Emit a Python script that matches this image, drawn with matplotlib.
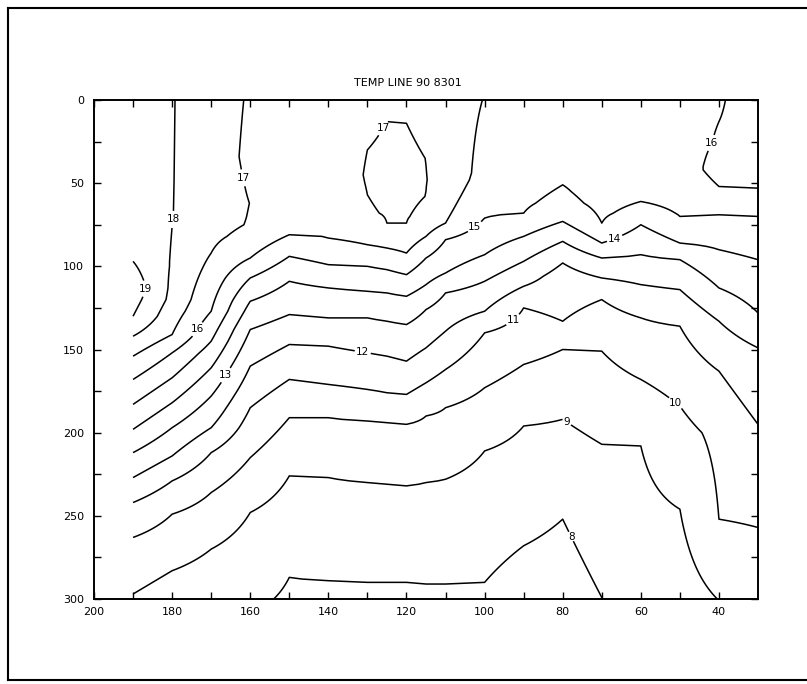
import numpy as np
import matplotlib
matplotlib.use("Agg")
import matplotlib.pyplot as plt
from matplotlib.lines import Line2D

# ---- data: temperature casts (depth, temperature) at each station ----
stations = [190, 180, 170, 160, 150, 140, 130, 125, 120, 115, 110, 100, 90, 80, 70, 60, 50, 40, 30]

cast_190 = [(0, 18.6), (97, 19.0), (113, 19.6), (130, 19.0), (142, 18), (154, 17), (168, 16), (183, 15),
            (198, 14), (212, 13), (227, 12), (242, 11), (263, 10), (297, 9), (300, 8.92)]
cast_180 = [(0, 18.04), (70, 18.02), (100, 17.92), (120, 17.75), (141, 17), (152, 16), (167, 15), (182, 14),
            (197, 13), (214, 12), (229, 11), (249, 10), (283, 9), (300, 8.5)]
cast_170 = [(0, 17.5), (50, 17.5), (70, 17.4), (92, 17.0), (127, 16), (145, 15), (161, 14), (178, 13),
            (197, 12), (212, 11), (236, 10), (270, 9), (300, 8.4)]
cast_160 = [(0, 16.9), (34, 16.8), (62, 16.99), (75, 16.94), (82, 16.73), (95, 16), (107, 15), (121, 14),
            (138, 13), (160, 12), (185, 11), (215, 10), (248, 9), (300, 8.15)]
cast_150 = [(0, 16.5), (60, 16.4), (81, 16), (94, 15), (109, 14), (129, 13), (147, 12), (168, 11),
            (191, 10), (226, 9), (287, 8), (300, 7.9)]
cast_140 = [(0, 16.6), (50, 16.5), (83, 16), (99, 15), (113, 14), (131, 13), (148, 12), (171, 11),
            (191, 10), (227, 9), (289, 8), (300, 7.8)]
cast_130 = [(0, 16.6), (20, 16.9), (30, 17.0), (45, 17.06), (57, 17.0), (68, 16.92), (87, 16), (100, 15),
            (115, 14), (131, 13), (152, 12), (174, 11), (193, 10), (230, 9), (290, 8), (300, 7.8)]
cast_125 = [(0, 16.7), (13, 17.0), (45, 17.25), (74, 17.0), (89, 16), (102, 15), (116, 14), (133, 13),
            (154, 12), (176, 11), (194, 10), (231, 9), (290, 8), (300, 7.8)]
cast_120 = [(0, 16.75), (14, 17.0), (45, 17.3), (74, 17.0), (92, 16), (105, 15), (118, 14),
            (135, 13), (157, 12), (177, 11), (195, 10), (232, 9), (290, 8), (300, 7.8)]
cast_115 = [(0, 16.6), (35, 16.99), (48, 17.02), (58, 16.99), (70, 16.8), (82, 16), (95, 15), (111, 14),
            (126, 13), (149, 12), (170, 11), (190, 10), (230, 9), (291, 8), (300, 7.85)]
cast_110 = [(0, 16.5), (48, 16.69), (74, 16), (84, 15), (104, 14), (116, 13), (139, 12), (162, 11),
            (185, 10), (228, 9), (291, 8), (300, 7.85)]
cast_100 = [(0, 15.97), (44, 15.66), (71, 15), (93, 14), (109, 13), (127, 12), (140, 11), (173, 10),
            (211, 9), (290, 8), (300, 7.8)]
cast_90 = [(0, 15.6), (50, 15.4), (68, 15), (82, 14), (97, 13), (112, 12), (125, 11), (159, 10), (196, 9),
           (268, 8), (300, 7.5)]
cast_80 = [(0, 15.5), (35, 15.35), (51, 15), (62, 14.7), (73, 14), (85, 13), (98, 12), (106, 11.6),
           (133, 11), (150, 10), (192, 9), (252, 8), (300, 7.5)]
cast_70 = [(0, 15.5), (55, 15.4), (74, 15), (86, 14), (95, 13), (107, 12), (120, 11), (151, 10),
           (207, 9), (300, 7.99)]
cast_60 = [(0, 15.6), (45, 15.4), (61, 15), (68, 14.7), (75, 14), (93, 13), (111, 12), (131, 11),
           (168, 10), (208, 9), (300, 8.45)]
cast_50 = [(0, 15.7), (40, 15.6), (70, 15), (86, 14), (96, 13), (114, 12), (136, 11), (184, 10),
           (246, 9), (300, 8.55)]
cast_40 = [(0, 15.9), (13, 16.0), (26, 16.08), (42, 16.3), (52, 16.0), (69, 15), (90, 14), (113, 13),
           (133, 12), (163, 11), (200, 10.2), (230, 10.08), (252, 10), (300, 9.02)]
cast_30 = [(0, 16.5), (53, 16), (70, 15), (96, 14), (128, 13), (149, 12), (195, 11), (257, 10), (300, 9.3)]

casts = [cast_190, cast_180, cast_170, cast_160, cast_150, cast_140, cast_130, cast_125, cast_120,
         cast_115, cast_110, cast_100, cast_90, cast_80, cast_70, cast_60, cast_50, cast_40, cast_30]

levels = [8, 9, 10, 11, 12, 13, 14, 15, 16, 17, 18, 19]

# where the contour labels sit (distance, depth)
label_spots = [(187.2, 113), (179.3, 72), (162.2, 47), (124.7, 19), (41.8, 26), (102.6, 76),
               (66.6, 84), (174.0, 137), (165.3, 167), (131.4, 155), (93.4, 130), (50.8, 181),
               (79.3, 195), (78.3, 263)]

title = "TEMP LINE 90 8301"
xtick_labels = [200, 180, 160, 140, 120, 100, 80, 60, 40]
ytick_labels = [0, 50, 100, 150, 200, 250, 300]

# ---- build gridded field from the casts ----
depth_grid = np.arange(0, 301, 1.0)
cols = []
for c in casts:
    d = [p[0] for p in c]
    t = [p[1] for p in c]
    cols.append(np.interp(depth_grid, d, t))
Z = np.column_stack(cols)
xs = np.array(stations, dtype=float)
order = np.argsort(xs)
xs = xs[order]
Z = Z[:, order]

# ---- figure ----
W, H = 807, 684
fig = plt.figure(figsize=(W / 100, H / 100), dpi=100)
ax = fig.add_axes([94 / W, 1 - 599 / H, (758 - 94) / W, (599 - 100) / H])

cs = ax.contour(xs, depth_grid, Z, levels=levels, colors="k", linewidths=1.1)
texts = ax.clabel(cs, fmt="%d", fontsize=7.5, manual=label_spots, inline=True, inline_spacing=2)
for t in texts:
    t.set_rotation(0)

ax.set_xlim(200, 30)
ax.set_ylim(300, 0)
ax.set_xticks(xtick_labels)
ax.set_xticks([190, 170, 150, 130, 110, 90, 70, 50], minor=True)
ax.set_yticks(ytick_labels)
ax.set_yticks([25, 75, 125, 175, 225, 275], minor=True)
ax.tick_params(which="both", direction="in", length=5, width=1.0, top=True, right=True,
               labelsize=8, colors="k")
ax.tick_params(axis="y", pad=7)
ax.tick_params(axis="x", pad=6)
for s in ax.spines.values():
    s.set_linewidth(1.4)

fig.text(408 / W, 1 - 83 / H, title, ha="center", va="center", fontsize=8)

# outer frame of the scanned page
fig.add_artist(Line2D([8 / W, 8 / W], [1 - 8 / H, 1 - 680 / H], color="k", lw=1.5))
fig.add_artist(Line2D([8 / W, 1.0], [1 - 8 / H, 1 - 8 / H], color="k", lw=1.5))
fig.add_artist(Line2D([8 / W, 1.0], [1 - 680 / H, 1 - 680 / H], color="k", lw=1.5))

fig.savefig("out.png", dpi=100)
